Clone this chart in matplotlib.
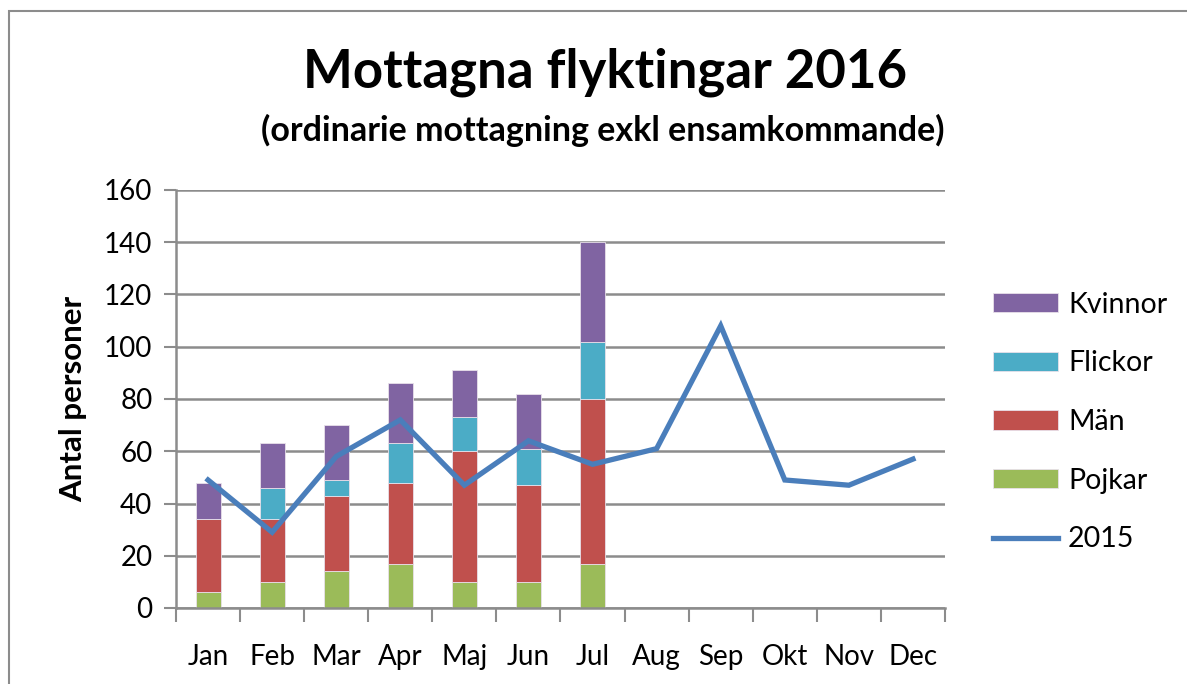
import matplotlib.pyplot as plt
from matplotlib.patches import Rectangle
import numpy as np

plt.rcParams['font.family'] = ['Lato', 'DejaVu Sans']

months = ['Jan', 'Feb', 'Mar', 'Apr', 'Maj', 'Jun', 'Jul', 'Aug', 'Sep', 'Okt', 'Nov', 'Dec']
pojkar = [6, 10, 14, 17, 10, 10, 17]
man = [28, 24, 29, 31, 50, 37, 63]
flickor = [0, 12, 6, 15, 13, 14, 22]
kvinnor = [14, 17, 21, 23, 18, 21, 38]
y2015 = [49, 29, 58, 72, 47, 64, 55, 61, 108, 49, 47, 57]

colors = {'Kvinnor': '#8064a2', 'Flickor': '#4bacc6', 'Män': '#c0504d', 'Pojkar': '#9bbb59'}
line_color = '#4a7ebb'
grid_color = '#8c8c8c'

fig = plt.figure(figsize=(11.87, 6.84), dpi=100)
ax = fig.add_axes([176 / 1187, 1 - 608 / 684, (945 - 176) / 1187, (608 - 190) / 684])

# ram runt hela diagrammet
fig.patches.append(Rectangle((9 / 1187, -0.1), 1.2, 1 - 11 / 684 + 0.1, transform=fig.transFigure,
                             fill=False, edgecolor='#8c8c8c', linewidth=1.5))

x = np.arange(len(pojkar))
w = 0.39
bottom = np.zeros(len(pojkar))
bars = {}
for name, vals in [('Pojkar', pojkar), ('Män', man), ('Flickor', flickor), ('Kvinnor', kvinnor)]:
    bars[name] = ax.bar(x, vals, w, bottom=bottom, color=colors[name], edgecolor='#e8e0ea',
                        linewidth=0.6, zorder=2)
    bottom += np.array(vals)

line, = ax.plot(np.arange(len(months)), y2015, color=line_color, linewidth=3.8,
                solid_joinstyle='miter', zorder=3)

ax.set_xlim(-0.5, 11.5)
ax.set_ylim(0, 160)
ax.set_yticks(np.arange(0, 161, 20))
ax.set_xticks(np.arange(12))
ax.set_xticklabels(months)
ax.set_xticks(np.arange(-0.5, 12, 1), minor=True)
ax.tick_params(axis='x', which='major', length=0, pad=26, labelsize=20)
ax.tick_params(axis='x', which='minor', length=10, width=1.5, color=grid_color)
ax.tick_params(axis='y', length=9, width=1.5, color=grid_color, labelsize=20, pad=8)
ax.yaxis.grid(True, color=grid_color, linewidth=1.8, zorder=0)
ax.set_axisbelow(True)
for s in ['top', 'right']:
    ax.spines[s].set_visible(False)
for s in ['left', 'bottom']:
    ax.spines[s].set_color(grid_color)
    ax.spines[s].set_linewidth(1.8)

ax.set_ylabel('Antal personer', fontsize=22.5, fontweight='bold', labelpad=12)

fig.text(605 / 1187, 1 - 72 / 684, 'Mottagna flyktingar 2016', ha='center', va='center',
         fontsize=38, fontweight='bold')
fig.text(603 / 1187, 1 - 130 / 684, '(ordinarie mottagning exkl ensamkommande)', ha='center',
         va='center', fontsize=24.5, fontweight='bold')

handles = [bars['Kvinnor'], bars['Flickor'], bars['Män'], bars['Pojkar'], line]
labels = ['Kvinnor', 'Flickor', 'Män', 'Pojkar', '2015']
leg = fig.legend(handles, labels, loc='center left', bbox_to_anchor=(967 / 1187, 1 - 422 / 684),
                 frameon=False, fontsize=20.5, handlelength=2.3, handleheight=0.65,
                 labelspacing=1.15, handletextpad=0.35)

fig.savefig('out.png', dpi=100)
